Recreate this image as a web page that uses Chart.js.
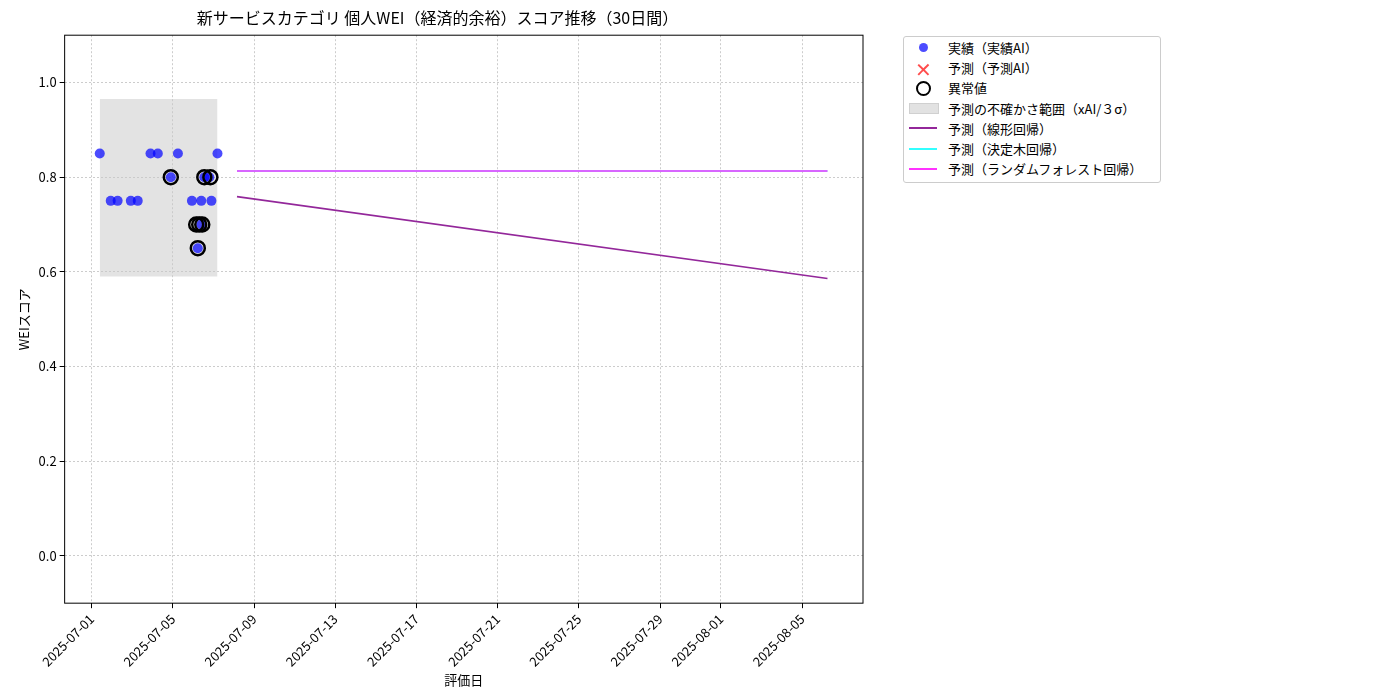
<!DOCTYPE html><html><head><meta charset="utf-8">
<script src="https://cdn.jsdelivr.net/npm/chart.js@4"></script>
<style>body{margin:0;background:#fff;font-family:"Noto Sans CJK JP";}
#wrap{position:absolute;left:0;top:0;width:1400px;height:700px}
#leg{position:absolute;left:903px;top:36px;width:256px;border:1px solid #ccc;border-radius:3px;padding:0 0 3px 0;font-size:13px;color:#000;background:#fff}
.r{height:20.3px;display:flex;align-items:center}
.s{width:40px;height:16px;position:relative;margin-right:4px}
</style></head><body><div id="wrap"><canvas id="c" width="1400" height="700"></canvas></div>
<div id="leg">
<div class="r"><div class="s"><div style="position:absolute;left:15px;top:4px;width:9px;height:9px;border-radius:50%;background:rgba(0,0,255,0.7)"></div></div>実績（実績AI）</div>
<div class="r"><div class="s"><span style="position:absolute;left:11px;top:-5px;font-size:20px;color:rgba(255,0,0,0.7)">✕</span></div>予測（予測AI）</div>
<div class="r"><div class="s"><div style="position:absolute;left:12px;top:1px;width:11px;height:11px;border-radius:50%;border:2.5px solid #000"></div></div>異常値</div>
<div class="r"><div class="s"><div style="position:absolute;left:5px;top:3px;width:28px;height:9px;background:#e2e2e2;border:1px solid #d0d0d0"></div></div>予測の不確かさ範囲（xAI/３σ）</div>
<div class="r"><div class="s"><div style="position:absolute;left:5px;top:7px;width:28px;height:2px;background:#93279a"></div></div>予測（線形回帰）</div>
<div class="r"><div class="s"><div style="position:absolute;left:5px;top:7px;width:28px;height:2px;background:#3ff"></div></div>予測（決定木回帰）</div>
<div class="r"><div class="s"><div style="position:absolute;left:5px;top:7px;width:28px;height:2px;background:#f3f"></div></div>予測（ランダムフォレスト回帰）</div>
</div>
<script>
// days since 2025-07-01
const actualX=[0.4,0.94,1.28,1.93,2.27,2.9,3.26,3.9,4.25,4.94,5.23,5.4,5.4,5.55,5.9,5.8,6.2];
const actualY=[0.85,0.75,0.75,0.75,0.75,0.85,0.85,0.80,0.85,0.75,0.65,0.75,0.70,0.80,0.75,0.80,0.85];
const outlierX=[3.9,5.23,5.15,5.3,5.45,5.55,5.85];
const outlierY=[0.80,0.65,0.70,0.70,0.70,0.80,0.80];
const bandX=[0.4,6.2];const bandLow=0.59,bandHigh=0.965;
const predX=[7.16,36.25];
const linY=[0.759,0.586];
const treeY=[0.813,0.813];
const rfY=[0.813,0.813];
const tickDays=[0,4,8,12,16,20,24,28,31,35];
const tickLabels=["2025-07-01","2025-07-05","2025-07-09","2025-07-13","2025-07-17","2025-07-21","2025-07-25","2025-07-29","2025-08-01","2025-08-05"];
const F="'Noto Sans CJK JP'";
const pts=(xs,ys)=>xs.map((x,i)=>({x,y:ys[i]}));
new Chart(document.getElementById('c'),{type:'scatter',data:{datasets:[
{type:'line',order:10,data:[{x:bandX[0],y:bandHigh},{x:bandX[1],y:bandHigh}],borderWidth:0,pointRadius:0,fill:{target:{value:bandLow}},backgroundColor:'rgba(200,200,200,0.5)',borderColor:'rgba(0,0,0,0)'},
{order:2,data:pts(actualX,actualY),backgroundColor:'rgba(0,0,255,0.7)',borderWidth:0,pointRadius:5},
{order:1,data:pts(outlierX,outlierY),backgroundColor:'rgba(0,0,0,0)',borderColor:'#000',borderWidth:2.5,pointRadius:7},
{type:'line',order:5,data:pts(predX,linY),borderColor:'#93279a',borderWidth:1.6,pointRadius:0},
{type:'line',order:6,data:pts(predX,treeY),borderColor:'#33ffff',borderWidth:1.6,pointRadius:0},
{type:'line',order:4,data:pts(predX,rfY),borderColor:'#ff33ff',borderWidth:1.6,pointRadius:0}
]},options:{responsive:false,animation:false,layout:{padding:{left:12,right:537,top:0,bottom:12}},
plugins:{legend:{display:false},tooltip:{enabled:false},title:{display:true,text:'新サービスカテゴリ 個人WEI（経済的余裕）スコア推移（30日間）',font:{family:F,size:16,weight:'normal'},color:'#000',padding:{top:8,bottom:8}}},
scales:{x:{type:'linear',min:-1.33,max:38.0,afterBuildTicks:a=>{a.ticks=tickDays.map(v=>({value:v}))},
ticks:{callback:v=>tickLabels[tickDays.indexOf(v)],maxRotation:45,minRotation:45,color:'#000',font:{family:F,size:13},autoSkip:false},
grid:{color:'#ccc',tickColor:'#000',tickLength:5},border:{display:false,dash:[2,2]},
title:{display:true,text:'評価日',color:'#000',font:{family:F,size:13},padding:0}},
y:{min:-0.1,max:1.1,afterBuildTicks:a=>{a.ticks=[0,0.2,0.4,0.6,0.8,1.0].map(v=>({value:v}))},
ticks:{callback:v=>v.toFixed(1),color:'#000',font:{family:F,size:13}},
grid:{color:'#ccc',tickColor:'#000',tickLength:5},border:{display:false,dash:[2,2]},
title:{display:true,text:'WEIスコア',color:'#000',font:{family:F,size:13},padding:4}}}},
plugins:[{id:'box',afterDraw(c){const a=c.chartArea,x=c.ctx;x.save();x.strokeStyle='#000';x.lineWidth=1;x.strokeRect(a.left,a.top,a.right-a.left,a.bottom-a.top);x.restore();}}]});
</script></body></html>
